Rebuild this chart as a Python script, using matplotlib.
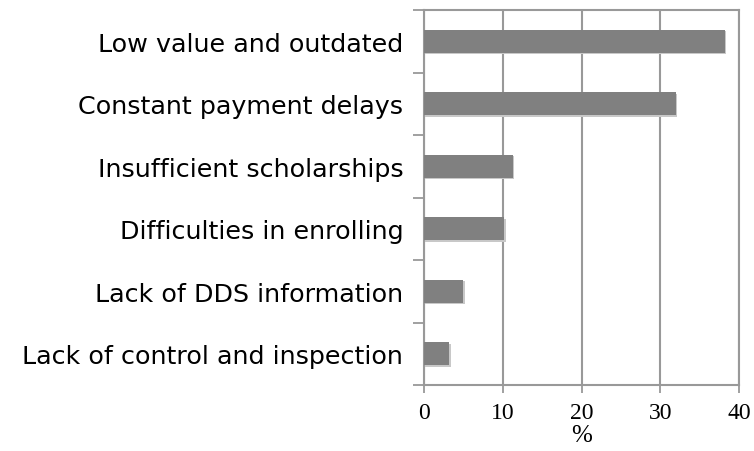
import matplotlib
matplotlib.use("Agg")
import matplotlib.pyplot as plt
import matplotlib.patheffects as pe

# data, top to bottom
labels = ["Low value and outdated", "Constant payment delays",
          "Insufficient scholarships", "Difficulties in enrolling",
          "Lack of DDS information", "Lack of control and inspection"]
values = [38.2, 32.0, 11.3, 10.2, 5.0, 3.2]
xticks = [0, 10, 20, 30, 40]

fig = plt.figure(figsize=(7.54, 4.52), dpi=100)
ax = fig.add_axes([424/754, 1 - 386/452, 315/754, 375/452])

pos = list(range(len(labels)))[::-1]
bars = ax.barh(pos, values, height=0.37, color="#808080", zorder=3)
for b in bars:
    b.set_path_effects([pe.SimplePatchShadow(offset=(1, -1), shadow_rgbFace="#c8c8c8", alpha=1),
                        pe.Normal()])

ax.set_xlim(0, 40)
ax.set_ylim(-0.5, len(labels) - 0.5)
ax.set_xticks(xticks)
ax.set_xticklabels([str(t) for t in xticks], family="Liberation Serif", fontsize=17)
ax.set_xlabel("%", family="Liberation Serif", fontsize=18, labelpad=1)

# category labels without ticks, separators as ticks
ax.set_yticks(pos)
ax.set_yticklabels(labels, fontsize=18.3, family="DejaVu Sans")
ax.tick_params(axis="y", which="major", length=0, pad=15)
ax.set_yticks([i - 0.5 for i in range(len(labels) + 1)], minor=True)
ax.tick_params(axis="y", which="minor", length=8, width=1.3, color="#999999")
ax.tick_params(axis="x", length=6, width=1.3, color="#999999", pad=6)

ax.grid(axis="x", color="#999999", linewidth=1.5, zorder=0)
for s in ax.spines.values():
    s.set_color("#999999")
    s.set_linewidth(1.5)

fig.savefig("out.png", dpi=100)
